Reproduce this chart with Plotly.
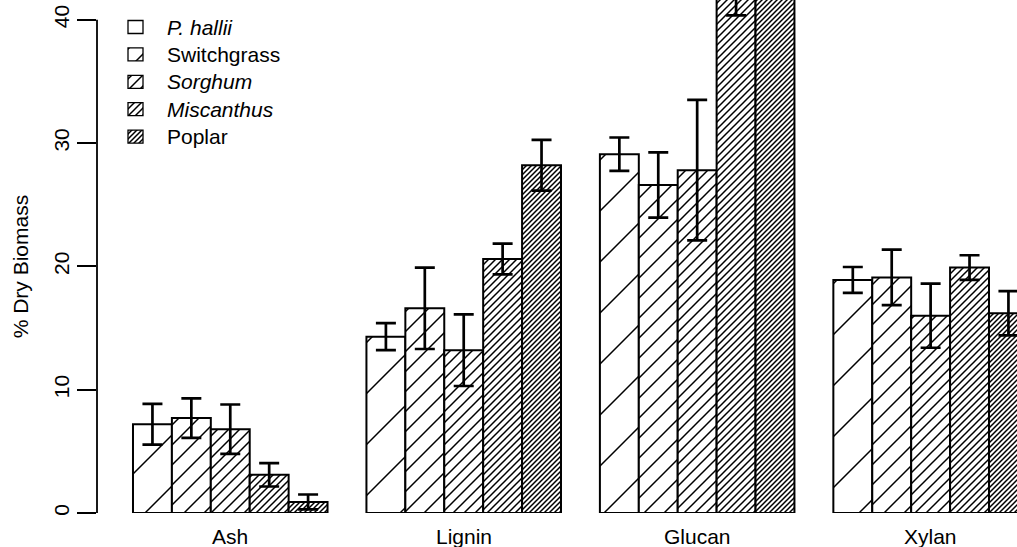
import plotly.graph_objects as go

categories = ["Ash", "Lignin", "Glucan", "Xylan"]
species = ["<i>P. hallii</i>", "Switchgrass", "<i>Sorghum</i>", "<i>Miscanthus</i>", "Poplar"]

# values per species across categories (Ash, Lignin, Glucan, Xylan)
p_hallii = [7.2, 14.3, 29.1, 18.9]
switchgrass = [7.7, 16.6, 26.6, 19.1]
sorghum = [6.8, 13.2, 27.8, 16.0]
miscanthus = [3.1, 20.6, 42.5, 19.9]
poplar = [0.9, 28.2, 46.0, 16.2]

p_hallii_err = [1.65, 1.1, 1.35, 1.05]
switchgrass_err = [1.6, 3.3, 2.65, 2.25]
sorghum_err = [2.0, 2.9, 5.7, 2.6]
miscanthus_err = [0.95, 1.25, 2.15, 1.0]
poplar_err = [0.6, 2.05, 2.0, 1.8]

y_ticks = [0, 10, 20, 30, 40]

values = [p_hallii, switchgrass, sorghum, miscanthus, poplar]
errors = [p_hallii_err, switchgrass_err, sorghum_err, miscanthus_err, poplar_err]

# hatch: vertical spacing between hatch lines (px), increasing density
hatch_gap = [51, 20, 11, 7, 5]
line_px = 1.5

FONT = "Liberation Sans, Arial, Helvetica, sans-serif"

# layout geometry (pixels)
L, R, T, B = 97, 0, 0, 34
W, H = 1017, 547
PW, PH = W - L - R, H - T - B


def pattern(i):
    size = hatch_gap[i] / 2 ** 0.5
    return dict(shape="/", size=size, solidity=min(line_px / size, 0.6),
                fgcolor="black", bgcolor="white", fgopacity=1, fillmode="overlay")


fig = go.Figure()
nser = len(species)
group_w = nser + 1
for i in range(nser):
    xs = [1 + group_w * g + i + 0.5 for g in range(len(categories))]
    fig.add_trace(go.Bar(
        x=xs, y=values[i], width=1, name=species[i], showlegend=False,
        marker=dict(color="white", line=dict(color="black", width=2), pattern=pattern(i)),
        error_y=dict(type="data", array=errors[i], visible=True, color="black",
                     thickness=2.7, width=10),
        xaxis="x", yaxis="y",
    ))

# legend drawn on a pixel-scaled overlay axis
leg_x, leg_y0, leg_dy = 135.5, 27, 27.4
box_w, box_h = 15, 13
for i in range(nser):
    cy = leg_y0 + leg_dy * i
    fig.add_trace(go.Bar(
        x=[leg_x], y=[box_h], base=[cy - box_h / 2], width=box_w, showlegend=False,
        marker=dict(color="white", line=dict(color="black", width=1.3), pattern=pattern(i)),
        xaxis="x2", yaxis="y2", hoverinfo="skip",
    ))
    fig.add_annotation(x=165, y=cy, xref="x2", yref="y2", text=species[i], showarrow=False,
                       xanchor="left", yanchor="middle",
                       font=dict(size=21, color="black", family=FONT))

centers = [1 + group_w * g + nser / 2 for g in range(len(categories))]
for c, lab in zip(centers, categories):
    fig.add_annotation(x=c, y=0, xref="x", yref="paper", text=lab, showarrow=False,
                       yanchor="top", yshift=-10, font=dict(size=21, color="black", family=FONT))

fig.add_annotation(x=0, y=20, xref="paper", yref="y", text="% Dry Biomass", showarrow=False,
                   textangle=-90, xanchor="center", yanchor="middle", xshift=-77,
                   font=dict(size=21, color="black", family=FONT))

fig.add_shape(type="line", xref="paper", yref="y", x0=0, x1=0, y0=y_ticks[0], y1=y_ticks[-1],
              line=dict(color="black", width=1.8))

fig.update_layout(
    width=W, height=H,
    margin=dict(l=L, r=R, t=T, b=B),
    paper_bgcolor="white", plot_bgcolor="white",
    barmode="overlay",
    showlegend=False,
    font=dict(family=FONT, size=21, color="black"),
    xaxis=dict(range=[0.075, 23.72], showgrid=False, zeroline=False, showline=False,
               showticklabels=False, ticks=""),
    yaxis=dict(range=[0, 41.6], showgrid=False, zeroline=False, showline=False,
               tickvals=y_ticks, ticks="outside", ticklen=19, tickwidth=1.8, tickcolor="black",
               tickangle=-90, tickfont=dict(size=21, family=FONT, color="black")),
    xaxis2=dict(range=[L, W - R], overlaying="x", anchor="y2", visible=False),
    yaxis2=dict(range=[PH, 0], overlaying="y", anchor="x2", visible=False),
)

fig.write_html("out.html", config={"displayModeBar": False},
               post_script="document.body.style.margin='0';")
